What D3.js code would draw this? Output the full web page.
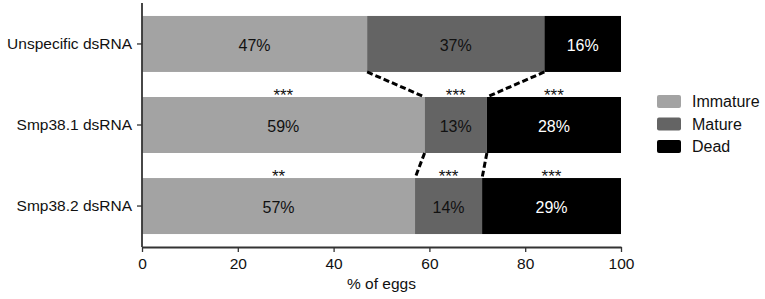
<!DOCTYPE html>
<html><head><meta charset="utf-8">
<script src="https://cdn.jsdelivr.net/npm/d3@7"></script>
<style>body{margin:0;background:#fff}svg{display:block}text{font-family:"Liberation Sans",Arial,sans-serif}</style>
</head><body><svg id="c" width="765" height="299"></svg>
<script>
const categories = ["Unspecific dsRNA", "Smp38.1 dsRNA", "Smp38.2 dsRNA"];
const seriesNames = ["Immature", "Mature", "Dead"];
const immature = [47, 59, 57];
const mature = [37, 13, 14];
const dead = [16, 28, 29];
const stars = [["", "", ""], ["***", "***", "***"], ["**", "***", "***"]];
const xTicks = [0, 20, 40, 60, 80, 100];
const colors = ["#a3a3a3", "#646464", "#000000"];
const labelColors = ["#111", "#111", "#fff"];

const svg = d3.select("#c");
const m = {l: 142, r: 144, t: 3, b: 52};
const W = 765, H = 299;
const x = d3.scaleLinear().domain([0, 100]).range([m.l, W - m.r]);
const y = d3.scaleBand().domain(categories).range([m.t, H - m.b]).paddingInner(0.309).paddingOuter(0.16);

const series = [immature, mature, dead];
const rows = categories.map((c, i) => {
  let acc = 0;
  return seriesNames.map((s, k) => { const v = series[k][i]; const o = {cat: c, k, v, x0: acc, x1: acc + v, star: stars[i][k]}; acc += v; return o; });
});

const g = svg.append("g");
rows.forEach(r => {
  g.selectAll(null).data(r).enter().append("rect")
    .attr("x", d => x(d.x0)).attr("width", d => x(d.x1) - x(d.x0))
    .attr("y", d => y(d.cat)).attr("height", y.bandwidth())
    .attr("fill", d => colors[d.k]);
  g.selectAll(null).data(r).enter().append("text")
    .attr("x", d => x((d.x0 + d.x1) / 2)).attr("y", d => y(d.cat) + y.bandwidth() / 2 + 7)
    .attr("text-anchor", "middle").attr("font-size", 16).attr("fill", d => labelColors[d.k])
    .text(d => d.v + "%");
  g.selectAll(null).data(r.filter(d => d.star)).enter().append("text")
    .attr("x", d => x((d.x0 + d.x1) / 2)).attr("y", d => y(d.cat) + 4)
    .attr("text-anchor", "middle").attr("font-size", 17).attr("fill", "#111")
    .text(d => d.star);
});

// dashed connectors
for (let i = 0; i < rows.length - 1; i++) {
  [0, 1].forEach(k => {
    svg.append("line")
      .attr("x1", x(rows[i][k].x1)).attr("y1", y(categories[i]) + y.bandwidth())
      .attr("x2", x(rows[i + 1][k].x1)).attr("y2", y(categories[i + 1]))
      .attr("stroke", "#000").attr("stroke-width", 3).attr("stroke-dasharray", "6,3");
  });
}

// axes
const xa = svg.append("g").attr("transform", `translate(0,${H - m.b})`)
  .call(d3.axisBottom(x).tickValues(xTicks).tickSize(5).tickPadding(6).tickSizeOuter(0));
const ya = svg.append("g").attr("transform", `translate(${m.l},0)`)
  .call(d3.axisLeft(y).tickSize(5).tickPadding(5).tickSizeOuter(0));
[xa, ya].forEach(a => {
  a.select(".domain").attr("stroke", "#333").attr("stroke-width", 1.8);
  a.selectAll(".tick line").attr("stroke", "#333").attr("stroke-width", 1.3);
  a.selectAll("text").attr("font-size", 15.5).attr("fill", "#111").attr("font-family", '"Liberation Sans",Arial,sans-serif');
});
ya.select(".domain").attr("d", `M0,${m.t}V${H - m.b}`);
svg.append("text").attr("x", x(50)).attr("y", 288.5).attr("text-anchor", "middle")
  .attr("font-size", 15.5).attr("fill", "#111").text("% of eggs");

// legend
const lg = svg.append("g").attr("transform", "translate(657,95)");
seriesNames.forEach((s, k) => {
  lg.append("rect").attr("x", 0).attr("y", k * 22.5).attr("width", 24).attr("height", 13).attr("rx", 2).attr("fill", colors[k]);
  lg.append("text").attr("x", 35).attr("y", k * 22.5 + 12).attr("font-size", 16).attr("fill", "#111").text(s);
});
</script></body></html>
